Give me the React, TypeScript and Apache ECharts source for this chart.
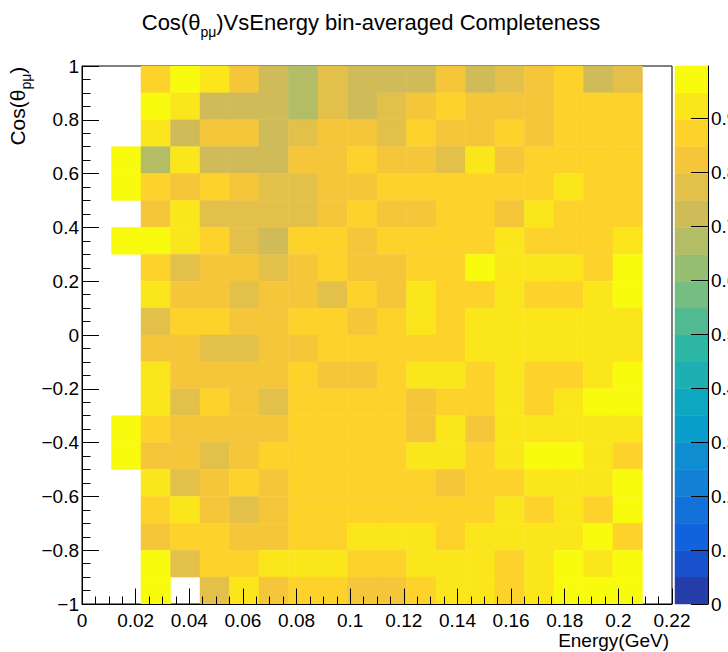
import React, { useEffect, useRef } from "react";
import * as echarts from "echarts";

// ---- binning of the 2D histogram ----
const energyMin = 0;
const energyMax = 0.22;
const energyBinWidth = 0.011; // 20 bins
const cosMin = -1;
const cosMax = 1;
const cosBinWidth = 0.1; // 20 bins

// ---- axis ticks ----
const energyTickStep = 0.02;
const cosTickStep = 0.2;
const zMin = 0;
const zMax = 0.997;
const paletteTicks = [0, 0.1, 0.2, 0.3, 0.4, 0.5, 0.6, 0.7, 0.8, 0.9];

// ---- ROOT kBird palette, 20 contour levels ----
const birdPalette = [
  "#263EA9", "#1752CC", "#1063DC", "#1272D9", "#1480D6",
  "#0E8ED1", "#099DCC", "#0EA7C2", "#1EAFB3", "#2EB7A4",
  "#51BA92", "#75BD80", "#96BE71", "#B3BD65", "#D0BB59",
  "#E3C04A", "#F5C63A", "#FDD22B", "#FBE61C", "#F9FB0E",
];

// ---- bin-averaged completeness; rows from cos bin [0.9,1] (top) down to [-1,-0.9];
//      columns are energy bins 0..19 (null = empty bin) ----
const completeness: (number | null)[][] = [
  [null, null, .87, .97, .92, .82, .72, .68, .77, .72, .72, .72, .82, .72, .77, .82, .87, .72, .77, null],
  [null, null, .97, .92, .72, .72, .72, .68, .77, .72, .77, .82, .87, .82, .82, .82, .87, .87, .87, null],
  [null, null, .92, .72, .82, .82, .72, .77, .82, .82, .77, .87, .82, .82, .87, .82, .87, .87, .87, null],
  [null, .97, .68, .92, .72, .72, .72, .82, .82, .87, .82, .82, .77, .92, .82, .87, .87, .87, .87, null],
  [null, .97, .87, .82, .87, .82, .77, .77, .82, .82, .87, .87, .87, .87, .87, .87, .92, .87, .87, null],
  [null, null, .82, .92, .77, .77, .77, .77, .82, .87, .82, .82, .87, .87, .82, .92, .87, .87, .87, null],
  [null, .97, .97, .92, .87, .77, .72, .87, .87, .82, .87, .87, .87, .87, .92, .87, .87, .87, .92, null],
  [null, null, .87, .77, .82, .82, .77, .82, .87, .82, .82, .87, .87, .97, .92, .92, .92, .87, .97, null],
  [null, null, .92, .82, .82, .77, .82, .82, .77, .87, .82, .92, .87, .87, .92, .87, .87, .92, .97, null],
  [null, null, .77, .87, .87, .82, .82, .87, .87, .82, .87, .92, .87, .92, .92, .92, .92, .92, .92, null],
  [null, null, .82, .82, .77, .77, .82, .82, .87, .87, .87, .87, .87, .92, .92, .92, .92, .92, .92, null],
  [null, null, .92, .82, .82, .82, .82, .87, .82, .82, .87, .92, .92, .87, .92, .87, .87, .92, .97, null],
  [null, null, .92, .77, .87, .82, .77, .87, .87, .87, .87, .82, .87, .87, .92, .87, .92, .97, .97, null],
  [null, .97, .87, .82, .82, .82, .82, .87, .87, .87, .87, .82, .92, .82, .92, .92, .92, .92, .92, null],
  [null, .97, .82, .82, .77, .82, .87, .87, .87, .87, .87, .92, .92, .87, .92, .97, .97, .92, .87, null],
  [null, null, .92, .77, .82, .87, .82, .87, .87, .87, .87, .87, .82, .87, .87, .92, .92, .92, .97, null],
  [null, null, .87, .92, .82, .77, .82, .87, .87, .87, .87, .87, .87, .87, .92, .87, .92, .87, .97, null],
  [null, null, .82, .87, .87, .82, .82, .87, .87, .92, .92, .92, .87, .92, .92, .92, .92, .97, .87, null],
  [null, null, .97, .77, .87, .87, .92, .92, .92, .87, .87, .92, .92, .92, .87, .92, .97, .92, .97, null],
  [null, null, .97, null, .77, .92, .82, .87, .87, .82, .82, .87, .92, .92, .87, .92, .97, .97, .97, null],
];

const FONT = "'Liberation Sans', Arial, Helvetica, sans-serif";

function fmt(v: number, digits: number): string {
  const r = Math.round(v * Math.pow(10, digits)) / Math.pow(10, digits);
  return r < 0 ? "\u2212" + String(-r) : String(r === 0 ? 0 : r);
}

export default function App() {
  const ref = useRef<HTMLDivElement>(null);

  useEffect(() => {
    if (!ref.current) return;
    const chart = echarts.init(ref.current, undefined, { renderer: "svg" });

    const cells: number[][] = [];
    completeness.forEach((row, r) => {
      row.forEach((v, c) => {
        if (v !== null && v !== undefined) {
          cells.push([energyMin + c * energyBinWidth, cosMax - (r + 1) * cosBinWidth, v]);
        }
      });
    });

    const nLevels = birdPalette.length;
    const levelWidth = (zMax - zMin) / nLevels;
    const pieces = birdPalette.map((color, k) => {
      const p: any = { gte: zMin + k * levelWidth, color };
      if (k < nLevels - 1) p.lt = zMin + (k + 1) * levelWidth;
      else p.lte = zMax + 1;
      return p;
    });
    const paletteData = birdPalette.map((_, k) => [0.5, zMin + k * levelWidth, zMin + (k + 1) * levelWidth, k]);

    const axisLineStyle = { color: "#000", width: 1 };
    const labelStyle = { color: "#000", fontSize: 19, fontFamily: FONT };

    const option: any = {
      animation: false,
      backgroundColor: "#fff",
      grid: [
        {
          left: 82, right: 56, top: 66, bottom: 48, outerBoundsMode: "none", containLabel: false,
          show: true, borderColor: "#000", borderWidth: 1, backgroundColor: "transparent",
        },
        { left: 675, right: 20, top: 66, bottom: 48, outerBoundsMode: "none", containLabel: false },
      ],
      xAxis: [
        {
          type: "value", gridIndex: 0, min: energyMin, max: energyMax, interval: energyTickStep, z: 5,
          axisLine: { show: true, onZero: false, lineStyle: axisLineStyle },
          axisTick: { show: true, inside: true, length: 15.5, lineStyle: axisLineStyle },
          minorTick: { show: true, splitNumber: 4, length: 7.5, lineStyle: axisLineStyle },
          splitLine: { show: false },
          axisLabel: { ...labelStyle, margin: 6.5, formatter: (v: number) => fmt(v, 3) },
        },
        { type: "value", gridIndex: 1, min: 0, max: 1, show: false },
      ],
      yAxis: [
        {
          type: "value", gridIndex: 0, min: cosMin, max: cosMax, interval: cosTickStep, z: 5,
          axisLine: { show: true, onZero: false, lineStyle: axisLineStyle },
          axisTick: { show: true, inside: true, length: 17, lineStyle: axisLineStyle },
          minorTick: { show: true, splitNumber: 4, length: 8.5, lineStyle: axisLineStyle },
          splitLine: { show: false },
          axisLabel: { ...labelStyle, margin: 3, padding: [7, 0, 0, 0], formatter: (v: number) => fmt(v, 2) },
        },
        {
          type: "value", gridIndex: 1, position: "right", min: zMin, max: zMax, z: 5,
          axisLine: { show: true, onZero: false, lineStyle: axisLineStyle },
          axisTick: { show: true, inside: true, length: 17, lineStyle: axisLineStyle, customValues: paletteTicks },
          splitLine: { show: false },
          axisLabel: { ...labelStyle, margin: 3, padding: [4, 0, 0, 0], customValues: paletteTicks, formatter: (v: number) => fmt(v, 2) },
        },
      ],
      visualMap: {
        type: "piecewise", show: false, seriesIndex: 0, dimension: 2, pieces,
      },
      series: [
        {
          type: "custom", xAxisIndex: 0, yAxisIndex: 0, data: cells,
          encode: { x: 0, y: 1 },
          renderItem: (params: any, api: any) => {
            const x0 = api.value(0);
            const y0 = api.value(1);
            const tl = api.coord([x0, y0 + cosBinWidth]);
            const br = api.coord([x0 + energyBinWidth, y0]);
            const color = api.visual("color");
            return {
              type: "rect",
              shape: { x: tl[0], y: tl[1], width: br[0] - tl[0], height: br[1] - tl[1] },
              style: { fill: color, stroke: color, lineWidth: 0.5 },
            };
          },
        },
        {
          type: "custom", xAxisIndex: 1, yAxisIndex: 1, data: paletteData,
          encode: { x: 0, y: [1, 2] },
          renderItem: (params: any, api: any) => {
            const tl = api.coord([0, api.value(2)]);
            const br = api.coord([1, api.value(1)]);
            const color = birdPalette[api.value(3)];
            return {
              type: "rect",
              shape: { x: tl[0], y: tl[1], width: br[0] - tl[0], height: br[1] - tl[1] },
              style: { fill: color, stroke: color, lineWidth: 0.5 },
            };
          },
        },
      ],
      graphic: {
        elements: [
          {
            type: "text", x: 371, y: 11.4, z: 10,
            style: {
              text: "{a|Cos(\u03b8}{s|p\u03bc}{a|)VsEnergy bin-averaged Completeness}",
              align: "center", verticalAlign: "top",
              rich: {
                a: { fontSize: 22, lineHeight: 22, fontFamily: FONT, fill: "#000", verticalAlign: "top" },
                s: { fontSize: 14, lineHeight: 14, fontFamily: FONT, fill: "#000", verticalAlign: "top", padding: [13.4, 0, 0, 0] },
              },
            },
          },
          {
            type: "text", x: 6.7, y: 66.7, rotation: Math.PI / 2, z: 10,
            style: {
              text: "{a|Cos(\u03b8}{s|p\u03bc}{a|)}",
              align: "right", verticalAlign: "top",
              rich: {
                a: { fontSize: 21, lineHeight: 21, fontFamily: FONT, fill: "#000", verticalAlign: "top" },
                s: { fontSize: 14, lineHeight: 14, fontFamily: FONT, fill: "#000", verticalAlign: "top", padding: [12, 0, 0, 0] },
              },
            },
          },
          {
            type: "text", x: 669, y: 640.4, z: 10,
            style: { text: "Energy(GeV)", align: "right", verticalAlign: "middle", fontSize: 19, fontFamily: FONT, fill: "#000" },
          },
        ],
      },
    };

    chart.setOption(option);
    return () => chart.dispose();
  }, []);

  return (
    <div
      ref={ref}
      style={{ position: "absolute", left: 0, top: 0, width: 728, height: 652, background: "#fff" }}
    />
  );
}
